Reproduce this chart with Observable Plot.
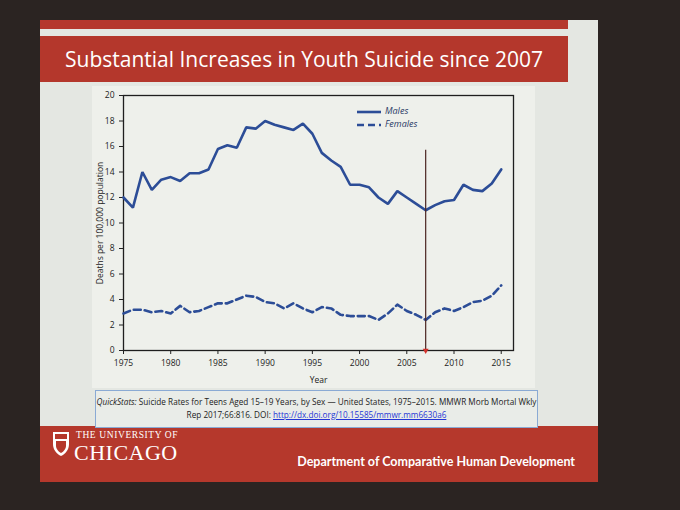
<!DOCTYPE html>
<html><head><meta charset="utf-8">
<script src="https://cdn.jsdelivr.net/npm/d3@7"></script>
<script src="https://cdn.jsdelivr.net/npm/@observablehq/plot@0.6"></script>
<style>
html,body{margin:0;padding:0;}
body{width:680px;height:510px;overflow:hidden;background:#2b2422;position:relative;font-family:"Open Sans",sans-serif;}
.abs{position:absolute;}
#slide{left:40px;top:20px;width:558px;height:462px;background:#e4e7e2;}
#strip{left:40px;top:20px;width:528px;height:9px;background:#b5382d;}
#banner{left:40px;top:36px;width:528px;height:46px;background:#b4372c;color:#fff;font-size:21px;line-height:46px;text-align:center;font-family:"Open Sans",sans-serif;}
#chartbox{left:92px;top:86px;width:443px;height:302px;background:#eef0eb;}
#chart{left:88px;top:86px;}
#legend{left:357px;top:104px;font-size:9px;color:#2a3a66;font-style:italic;font-family:"Open Sans",sans-serif;line-height:13px;}
#legend svg{vertical-align:middle;margin-right:4px;}
#footer{left:40px;top:426px;width:558px;height:56px;background:#b5382c;}
#cite{left:95px;top:390px;width:443px;height:38px;background:#e9ece8;border:1px solid #8aaad4;font-size:8.2px;line-height:13px;text-align:center;color:#222;padding-top:4px;box-sizing:border-box;}
#cite a{color:#2436d6;text-decoration:underline;}
#uc1{left:76px;top:430px;color:#fff;font-family:"Liberation Serif",serif;font-size:9.5px;letter-spacing:0.6px;}
#uc2{left:74px;top:440px;color:#fff;font-family:"Liberation Serif",serif;font-size:22px;letter-spacing:0.5px;}
#shield{left:52px;top:431px;}
#dept{left:240px;top:454px;width:335px;text-align:right;white-space:nowrap;color:#fff;font-family:Lato,sans-serif;font-weight:700;font-size:12.5px;}
</style></head>
<body>
<div id="slide" class="abs"></div>
<div id="strip" class="abs"></div>
<div id="banner" class="abs">Substantial Increases in Youth Suicide since 2007</div>
<div id="chartbox" class="abs"></div>
<div id="chart" class="abs"></div>
<div id="legend" class="abs">
  <div><svg width="24" height="6"><line x1="0" y1="3" x2="24" y2="3" stroke="#2c4d97" stroke-width="2.6"/></svg>Males</div>
  <div><svg width="24" height="6"><line x1="0" y1="3" x2="24" y2="3" stroke="#2c4d97" stroke-width="2.6" stroke-dasharray="7,4"/></svg>Females</div>
</div>
<div id="footer" class="abs"></div>
<div id="cite" class="abs"><i>QuickStats:</i> Suicide Rates for Teens Aged 15–19 Years, by Sex — United States, 1975–2015. MMWR Morb Mortal Wkly<br>Rep 2017;66:816. DOI: <a>http://dx.doi.org/10.15585/mmwr.mm6630a6</a></div>
<svg id="shield" class="abs" width="18" height="26" viewBox="0 0 18 26">
  <path d="M1 1 H17 V13 C17 19 13 23 9 25 C5 23 1 19 1 13 Z" fill="#fff"/>
  <path d="M3 3 H15 V8 H3 Z" fill="#b5382c"/>
  <path d="M4 10 H14 V15 C14 18 11 21 9 22 C7 21 4 18 4 15 Z" fill="#b5382c"/>
</svg>
<div id="uc1" class="abs">THE UNIVERSITY OF</div>
<div id="uc2" class="abs">CHICAGO</div>
<div id="dept" class="abs">Department of Comparative Human Development</div>
<script>
const years = [1975,1976,1977,1978,1979,1980,1981,1982,1983,1984,1985,1986,1987,1988,1989,1990,1991,1992,1993,1994,1995,1996,1997,1998,1999,2000,2001,2002,2003,2004,2005,2006,2007,2008,2009,2010,2011,2012,2013,2014,2015];
const males = [12.0,11.2,14.0,12.6,13.4,13.6,13.3,13.9,13.9,14.2,15.8,16.1,15.9,17.5,17.4,18.0,17.7,17.5,17.3,17.8,17.0,15.5,14.9,14.4,13.0,13.0,12.8,12.0,11.5,12.5,12.0,11.5,11.0,11.4,11.7,11.8,13.0,12.6,12.5,13.1,14.2];
const females = [2.9,3.2,3.2,3.0,3.1,2.9,3.5,3.0,3.1,3.4,3.7,3.7,4.0,4.3,4.2,3.8,3.7,3.3,3.7,3.3,3.0,3.4,3.3,2.8,2.7,2.7,2.7,2.4,2.9,3.6,3.1,2.8,2.4,3.0,3.3,3.1,3.4,3.8,3.9,4.3,5.1];
const xTicks = [1975,1980,1985,1990,1995,2000,2005,2010,2015];
const yTicks = [0,2,4,6,8,10,12,14,16,18,20];
const markerYear = [2007];
const markerTop = [15.7];

const maleRows = years.map((y,i)=>({year:y, rate:males[i]}));
const femaleRows = years.map((y,i)=>({year:y, rate:females[i]}));
const markerRows = markerYear.map((y,i)=>({year:y, top:markerTop[i], base:0}));

const blue = "#2c4d97";
const chart = Plot.plot({
  width: 447, height: 302,
  marginLeft: 35, marginRight: 22, marginTop: 9, marginBottom: 38,
  style: {fontFamily: "'Open Sans', sans-serif", fontSize: "8px", color: "#222", background: "transparent"},
  x: {domain: [1975, 2016.3]},
  y: {domain: [0, 20]},
  marks: [
    Plot.frame({stroke: "#1e1e1e", strokeWidth: 1.3}),
    Plot.axisY({ticks: yTicks, tickFormat: d => String(d), tickSize: 4, label: "Deaths per 100,000 population", labelAnchor: "center", labelArrow: "none", labelOffset: 27, fontSize: 8.5}),
    Plot.axisX({ticks: xTicks, tickFormat: d => String(d), tickSize: 4, label: "Year", labelAnchor: "center", labelArrow: "none", labelOffset: 32, fontSize: 8.5}),
    Plot.line(maleRows, {x: "year", y: "rate", stroke: blue, strokeWidth: 2.6, strokeLinejoin: "miter"}),
    Plot.line(femaleRows, {x: "year", y: "rate", stroke: blue, strokeWidth: 2.6, strokeDasharray: "7,4"}),
    Plot.ruleX(markerRows, {x: "year", y1: "base", y2: "top", stroke: "#4a2420", strokeWidth: 1.2}),
    Plot.dot(markerRows, {x: "year", y: "base", symbol: "triangle", r: 2.2, fill: "#d2302a", rotate: 180})
  ]
});
document.getElementById("chart").appendChild(chart);
</script>
</body></html>
